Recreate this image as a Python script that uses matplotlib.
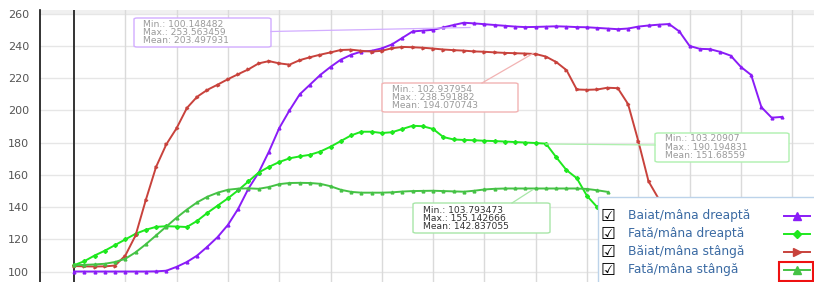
import numpy as np
import matplotlib.pyplot as plt
from matplotlib.lines import Line2D
from matplotlib.patches import FancyBboxPatch, Rectangle

W, H = 814, 282

# readings taken every 2nd sample
baiat_dreapta = [100.1, 100.1, 100.1, 100.1, 100.1, 100.1, 100.1, 100.1, 100.2, 100.6,
                 103, 106, 110, 115.5, 121.5, 129, 139, 151.5, 161.5, 174.5,
                 189, 200, 210, 216, 222, 227, 231.5, 234.5, 236.5, 237,
                 238.5, 241, 245, 249, 249.5, 250, 251.5, 253, 254.4, 254,
                 253.5, 253, 252.5, 252, 251.7, 251.8, 252, 252.2, 252, 251.7,
                 251.6, 251.2, 250.8, 250.4, 250.8, 252, 252.7, 253.2, 253.6, 249,
                 240, 238.2, 238, 236.3, 234, 227, 222, 202, 195.5, 196]
fata_dreapta = [104, 106.5, 110, 113, 116.5, 120, 123.5, 126, 127.8, 128.2,
                128, 127.7, 131.5, 136.5, 141, 145.5, 150.5, 156, 161.5, 165,
                168, 170.3, 171.5, 172.5, 174.5, 177.5, 181, 184.5, 186.8, 186.8,
                186, 186.5, 188.5, 190.5, 190.2, 188.5, 183.5, 182, 181.7, 181.5,
                181.2, 181, 180.7, 180.4, 180.1, 179.8, 179.4, 171, 163, 158,
                147, 140, 130, 122, 115, 110, 106, 104.5, 103.8, 103.5,
                103.3, 103.2]
baiat_stanga = [103.5, 103.3, 103.2, 103.3, 103.8, 110, 122.5, 144.5, 165, 179,
                189, 201.5, 208.5, 212.8, 216, 219.4, 222.5, 225.5, 229.2, 230.6,
                229.2, 228.4, 231.2, 233, 234.6, 236, 237.5, 237.7, 237, 236.5,
                237, 238.6, 239.4, 239.2, 238.9, 238.4, 237.8, 237.4, 237.1, 236.6,
                236.4, 236, 235.7, 235.5, 235.3, 235, 233.4, 230, 225, 213,
                212.8, 213, 214.1, 213.8, 204, 181, 156, 145, 135, 125,
                117, 111, 107, 105, 104, 103.5, 103.2, 103, 103, 103]
fata_stanga = [104, 104.2, 104.5, 104.9, 106, 108, 112, 117, 122.5, 128,
               133.5, 138.5, 143, 146.5, 149, 150.8, 151.5, 151.7, 151.4, 152.5,
               154.3, 155, 155.1, 155, 154.5, 153, 150.8, 149.5, 149, 149,
               149, 149.2, 149.7, 150, 150.1, 150.2, 150, 149.8, 149.6, 150.2,
               151, 151.4, 151.6, 151.6, 151.6, 151.6, 151.6, 151.6, 151.6, 151.6,
               151.3, 150.5, 149.5]

series = [baiat_dreapta, fata_dreapta, baiat_stanga, fata_stanga]
labels = ["Baiat/mâna dreaptă", "Fată/mâna dreaptă", "Băiat/mâna stângă", "Fată/mâna stângă"]
colors = ["#8a1cf7", "#1ee81e", "#c8423c", "#45c245"]
markers = ["^", "D", ">", "^"]

stats = ["Min.: 100.148482\nMax.: 253.563459\nMean: 203.497931",
         "Min.: 103.20907\nMax.: 190.194831\nMean: 151.68559",
         "Min.: 102.937954\nMax.: 238.591882\nMean: 194.070743",
         "Min.: 103.793473\nMax.: 155.142666\nMean: 142.837055"]
yticks = [100, 120, 140, 160, 180, 200, 220, 240, 260]


def f(px, py):
    return px / W, 1 - py / H


fig = plt.figure(figsize=(W / 100, H / 100), dpi=100)
ax = fig.add_axes([40 / W, 0, 1 - 40 / W, 1 - 10 / H])
ax.set_xlim(-6.63, 144.25)
ax.set_ylim(93.6, 262.3)

ax.axhspan(260, 262.3, color="#f0f0f0", lw=0, zorder=0)
for v in yticks:
    ax.axhline(v, color="#e6e6e6", lw=1, zorder=0)
for gx in range(10, 150, 10):
    ax.axvline(gx, color="#dadada", lw=1, zorder=0)
ax.axvline(0, color="#333333", lw=1.4, zorder=1)

for vals, c, m in zip(series, colors, markers):
    xs = np.arange(len(vals)) * 2
    ax.plot(xs, vals, color=c, lw=1.4, marker=m, ms=2.0, zorder=3)

ax.set_yticks(yticks)
ax.set_xticks([])
ax.tick_params(axis="y", length=0, pad=8, labelsize=8, labelcolor="#555555")
for s in ["top", "right", "bottom"]:
    ax.spines[s].set_visible(False)
ax.spines["left"].set_color("#111111")
ax.spines["left"].set_linewidth(1.2)

# tooltip boxes: (box x0, y0, x1, y1), text x, middle line y, edge colour, text colour, connector
tips = [
    ((134, 18, 271, 47), 143, 32.8, "#d2adff", "#9a9a9a", ((271, 31.5), (470, 27.5))),
    ((655, 133, 789, 162), 665, 147, "#aef0ae", "#9a9a9a", ((546, 144), (655, 145))),
    ((382, 83, 518, 112), 392, 97.8, "#f2b3b3", "#9a9a9a", ((482, 83), (533, 53.5))),
    ((413, 203, 550, 233), 423, 218.5, "#a8e6a8", "#333333", ((512, 203), (533, 189.5))),
]
for (box, tx, ty, ec, tc, conn), txt in zip(tips, stats):
    (cx0, cy0), (cx1, cy1) = conn
    fig.lines.append(Line2D([cx0 / W, cx1 / W], [1 - cy0 / H, 1 - cy1 / H],
                            transform=fig.transFigure, color=ec, lw=0.9))
    x0, y0 = f(box[0], box[3])
    fig.patches.append(FancyBboxPatch((x0, y0), (box[2] - box[0]) / W, (box[3] - box[1]) / H,
                                      boxstyle="round,pad=0,rounding_size=0.004",
                                      transform=fig.transFigure, facecolor="white",
                                      edgecolor=ec, lw=1))
    fig.text(tx / W, 1 - ty / H, txt, fontsize=6.6, color=tc, va="center", ha="left",
             linespacing=0.86)

# legend
lx0, ly0 = f(598, 284)
fig.patches.append(Rectangle((lx0, ly0), 1, (284 - 197) / H, transform=fig.transFigure,
                             facecolor="white", edgecolor="#bcd3ea", lw=1))
rows = [216, 234, 252, 270]
for ry, lab, c, m in zip(rows, labels, colors, markers):
    fig.text(601 / W, 1 - ry / H, "☑", fontsize=12, fontweight="bold", color="black",
             va="center", ha="left")
    fig.text(628 / W, 1 - ry / H, lab, fontsize=8.8, color="#3a6aa3", va="center", ha="left")
    fig.lines.append(Line2D([784 / W, 810 / W], [1 - ry / H, 1 - ry / H], transform=fig.transFigure,
                            color=c, lw=1.4))
    fig.lines.append(Line2D([797 / W], [1 - ry / H], transform=fig.transFigure, color=c,
                            marker=m, ms=5.5 if m != "D" else 4.5, lw=0))
bx, by = f(779, 281)
fig.patches.append(Rectangle((bx, by), 34 / W, 19 / H, transform=fig.transFigure,
                             facecolor="none", edgecolor="#ee1111", lw=1.5))

fig.savefig("out.png", dpi=100)
